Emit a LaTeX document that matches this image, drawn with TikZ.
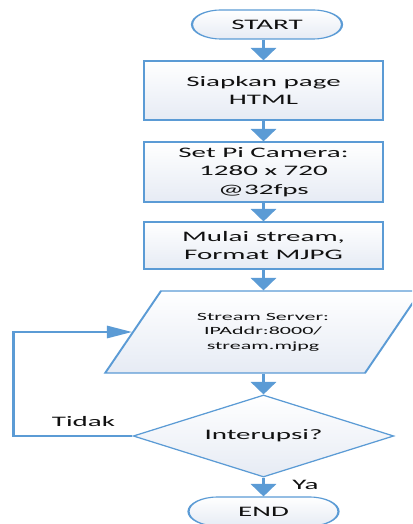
\documentclass[tikz,border=0pt]{standalone}
\usepackage{fontspec}
\setmainfont{Carlito}
\usetikzlibrary{shapes.geometric,shapes.misc,arrows.meta}
\definecolor{flowblue}{HTML}{5B9BD5}
\definecolor{fillbot}{HTML}{E6EBF4}
\definecolor{txt}{HTML}{111111}
\tikzset{
  base/.style={draw=flowblue, line width=1.1pt, top color=white, bottom color=fillbot,
    text=txt, inner sep=0pt, align=center, font=\fontsize{14.5}{18.5}\selectfont},
  term/.style={base, rounded rectangle, minimum width=75pt, minimum height=29pt},
  proc/.style={base, rectangle, minimum width=119.5pt},
  io/.style={base, trapezium, trapezium left angle=64.6, trapezium right angle=115.4,
    trapezium stretches=true, minimum width=158pt, minimum height=82pt,
    font=\fontsize{11}{14.5}\selectfont},
  decision/.style={base, diamond, minimum width=130.5pt, minimum height=82pt},
  arr/.style={draw=flowblue, line width=1.5pt, -{Triangle[width=12.5pt,length=12.5pt]}},
  lbl/.style={text=txt, font=\fontsize{14.5}{18.5}\selectfont, inner sep=0pt}
}
\begin{document}
\begin{tikzpicture}[x=1pt, y=-1pt]
\useasboundingbox (0,0) rectangle (412,524);
\clip (0,0) rectangle (412,524);
\begin{scope}[transform canvas={xscale=2}]
  \node[term] (start) at (133.5,24.5) {START};
  \node[proc, minimum height=59pt] (p1) at (131.75,90.5) {Siapkan page\\HTML};
  \node[proc, minimum height=60pt] (p2) at (131.75,172) {Set Pi Camera:\\1280 x 720\\@32fps};
  \node[proc, minimum height=47pt] (p3) at (131.75,245.5) {Mulai stream,\\Format MJPG};
  \node[io] (io) at (131.5,332) {Stream Server:\\IPAddr:8000/\\stream.mjpg};
  \node[decision] (dec) at (131.75,436) {Interupsi?};
  \node[term] (end) at (131.75,511.5) {END};
  \coordinate (loopx) at (6.5,0);
  \draw[arr] (start.south -| p1.north) -- (p1.north);
  \draw[arr] (p1.south) -- (p2.north);
  \draw[arr] (p2.south) -- (p3.north);
  \draw[arr] (p3.south) -- (p3.south |- io.north);
  \draw[arr] (p3.south |- io.south) -- (dec.north);
  \draw[arr] (dec.south) -- (end.north);
  \draw[arr] (dec.west) -- (dec.west -| loopx) |- (io.west);
  \node[lbl] (tidak) at (41.75,422) {Tidak};
  \node[lbl] (ya) at (152.75,485) {Ya};
\end{scope}
\end{tikzpicture}
\end{document}
